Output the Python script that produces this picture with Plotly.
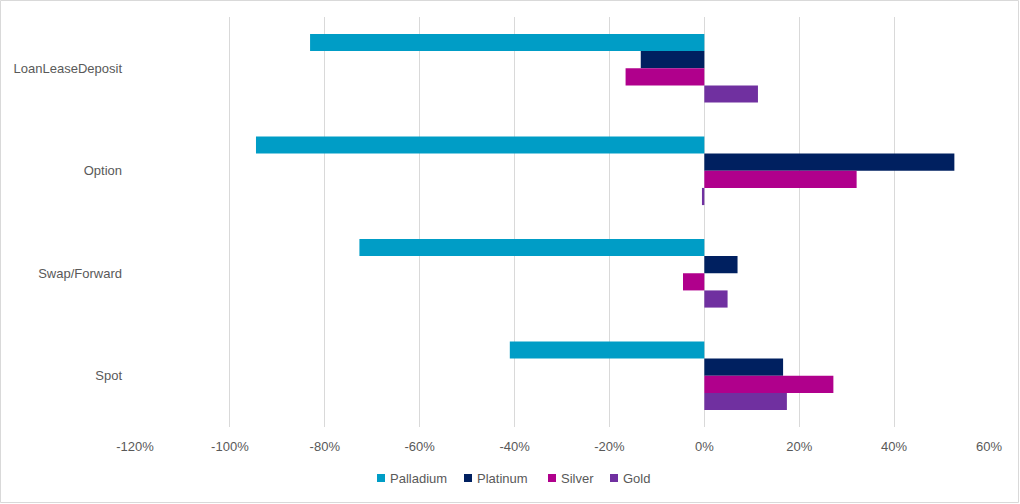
import plotly.graph_objects as go

categories = ["LoanLeaseDeposit", "Option", "Swap/Forward", "Spot"]
palladium = [-0.831, -0.945, -0.727, -0.410]
platinum = [-0.134, 0.527, 0.070, 0.166]
silver = [-0.166, 0.321, -0.045, 0.272]
gold = [0.113, -0.005, 0.049, 0.174]

tick_vals = [-1.2, -1.0, -0.8, -0.6, -0.4, -0.2, 0.0, 0.2, 0.4, 0.6]
tick_text = ["-120%", "-100%", "-80%", "-60%", "-40%", "-20%", "0%", "20%", "40%", "60%"]

series = [
    ("Palladium", palladium, "#009DC6"),
    ("Platinum", platinum, "#002060"),
    ("Silver", silver, "#B0008C"),
    ("Gold", gold, "#7030A0"),
]

W, H = 1020, 504
ml, mr, mt, mb = 135, 31, 17, 77
pw, ph = W - ml - mr, H - mt - mb
grey = "#595959"

fig = go.Figure()
for name, vals, col in series:
    fig.add_trace(go.Bar(y=categories, x=vals, name=name, orientation="h",
                         marker=dict(color=col, line=dict(width=0)),
                         showlegend=False))

fig.update_layout(
    width=W, height=H,
    margin=dict(l=ml, r=mr, t=mt, b=mb),
    paper_bgcolor="white", plot_bgcolor="white",
    barmode="group", bargap=0.33, bargroupgap=0,
    font=dict(family="Liberation Sans, Arial, sans-serif", size=13, color=grey),
    xaxis=dict(range=[-1.2, 0.6], tickvals=tick_vals, ticktext=tick_text,
               showgrid=True, gridcolor="#D9D9D9", gridwidth=1,
               zeroline=False, showline=False, ticks="", ticklabelstandoff=10,
               automargin=False),
    yaxis=dict(autorange="reversed", showgrid=False, zeroline=False,
               showline=False, ticks="", ticklabelstandoff=12, automargin=False),
    showlegend=False,
)

# legend drawn as small squares + labels, Excel style
leg_sq_x = [377, 464, 548, 610]
leg_y = 478
for (name, _, col), px in zip(series, leg_sq_x):
    fig.add_shape(type="rect", xref="paper", yref="paper",
                  x0=(px - ml) / pw, x1=(px + 8 - ml) / pw,
                  y0=(H - mb - leg_y - 4) / ph, y1=(H - mb - leg_y + 4) / ph,
                  fillcolor=col, line=dict(width=0))
    fig.add_annotation(text=name, xref="paper", yref="paper",
                       x=(px + 11 - ml) / pw, y=(H - mb - leg_y) / ph,
                       xanchor="left", yanchor="middle", showarrow=False,
                       font=dict(size=13, color=grey))

# light chart-area border
fig.add_shape(type="rect", xref="paper", yref="paper",
              x0=-(ml - 0.5) / pw, x1=1 + (mr - 1.5) / pw,
              y0=-(mb - 1.5) / ph, y1=1 + (mt - 0.5) / ph,
              line=dict(color="#D9D9D9", width=1), layer="below")

fig.write_html("out.html", config={"displayModeBar": False},
               post_script="document.body.style.margin='0';")
